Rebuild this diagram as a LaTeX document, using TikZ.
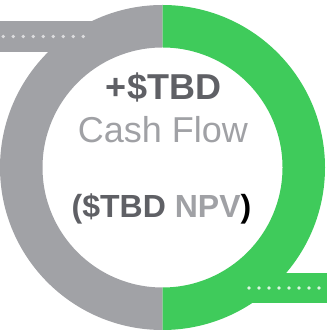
\documentclass[tikz,border=0pt]{standalone}
\usepackage{fontspec}
\setmainfont{Liberation Sans}
\usepackage{tikz}

\definecolor{ringgray}{HTML}{A1A2A6}
\definecolor{ringgreen}{HTML}{3FCB5B}
\definecolor{darktext}{HTML}{5F6065}
\definecolor{lighttext}{HTML}{A0A1A5}
\definecolor{graydot}{HTML}{DCDCDE}
\definecolor{greendot}{HTML}{DDF5E2}

\begin{document}
\begin{tikzpicture}[x=1pt,y=1pt]

\useasboundingbox (0,0) rectangle (327,331);

\coordinate (mid) at (162.5,163.5);

\fill[ringgray] (0,279) rectangle (120,310);
\fill[ringgreen] (225,28) rectangle (327,58);

\fill[ringgray] (mid) ++(0,162.5) arc[start angle=90,end angle=270,radius=162.5pt]
  -- ++(0,42.5) arc[start angle=270,end angle=90,radius=120pt] -- cycle;
\fill[ringgreen] (mid) ++(0,162.5) arc[start angle=90,end angle=-90,radius=162.5pt]
  -- ++(0,42.5) arc[start angle=-90,end angle=90,radius=120pt] -- cycle;

\fill[graydot] (3.3,294.5) circle (1.9);
\fill[graydot] (13.3,294.5) circle (1.9);
\fill[graydot] (23.3,294.5) circle (1.9);
\fill[graydot] (33.3,294.5) circle (1.9);
\fill[graydot] (43.3,294.5) circle (1.9);
\fill[graydot] (53.3,294.5) circle (1.9);
\fill[graydot] (63.3,294.5) circle (1.9);
\fill[graydot] (73.3,294.5) circle (1.9);
\fill[graydot] (83.3,294.5) circle (1.9);

\fill[greendot] (249,43) circle (1.9);
\fill[greendot] (259,43) circle (1.9);
\fill[greendot] (269,43) circle (1.9);
\fill[greendot] (279,43) circle (1.9);
\fill[greendot] (289,43) circle (1.9);
\fill[greendot] (299,43) circle (1.9);
\fill[greendot] (309,43) circle (1.9);
\fill[greendot] (319,43) circle (1.9);

\node[anchor=base,inner sep=0pt,text=darktext,font=\fontsize{36}{40}\selectfont\bfseries] (amount) at (163.5,231) {+\$TBD};
\node[anchor=base,inner sep=0pt,text=lighttext,font=\fontsize{36}{40}\selectfont] (flow) at (163,188) {Cash Flow};
\node[anchor=base,inner sep=0pt,font=\fontsize{32}{36}\selectfont\bfseries] (npv) at (161.5,113)
  {\textcolor{darktext}{(\$TBD} \textcolor{lighttext}{NPV}\textcolor{black}{)}};

\end{tikzpicture}
\end{document}
